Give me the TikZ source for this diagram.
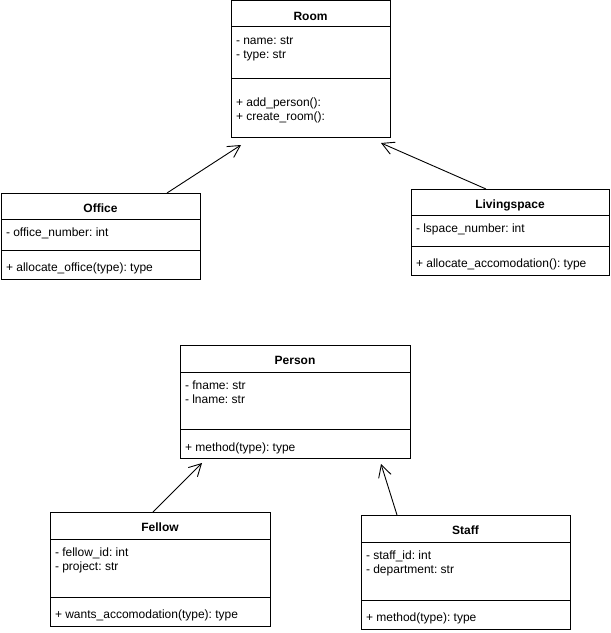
\documentclass[tikz,border=0pt]{standalone}
\usepackage{fontspec}
\setmainfont{Liberation Sans}
\usetikzlibrary{positioning,calc,arrows.meta}
\newcommand\umlfont{\fontsize{12bp}{14bp}\selectfont\frenchspacing}
\tikzset{%
  >={Straight Barb[length=12bp,width=13bp]},
  classbox/.style={draw,line width=1bp,inner sep=0pt,outer sep=0pt,
    anchor=north west},
  classtitle/.style={font=\umlfont\bfseries,inner sep=0pt,
    text height=9bp,text depth=2.5bp},
  classtext/.style={font=\umlfont,align=left,anchor=north west,
    inner sep=0pt,outer sep=0pt},
  inherit/.style={->,line width=0.9bp}%
}
% box with title, attribute and method compartments
\newcommand\ClassBox[8]{%
  \pgfmathsetmacro\boxH{#5+#6+#7}
  \node[classbox,minimum width=#4bp,minimum height=\boxH bp] (#1) at (#2,#3) {};
  \coordinate (#1-a) at ($(#1.north west)+(0,#5)$);
  \coordinate (#1-m) at ($(#1-a)+(0,#6)$);
  \draw[line width=1bp] (#1-a) -- (#1-a -| #1.east);
  \draw[line width=1bp] (#1-m) -- (#1-m -| #1.east);
  \node[classtitle] (#1-title) at ($(#1.north)!.5!(#1-a -| #1.north)+(0,3)$) {#8};
}

\begin{document}
\begin{tikzpicture}[x=1bp,y=-1bp]
	\useasboundingbox (0,0) rectangle (611,633);
	
	%% rooms
	\ClassBox{room}{231}{1}{159}{26}{52}{58}{Room}
	\node[classtext] (room-attr) at ($(room-a)+(5,8)$) {\strut- name: str\\- type: str};
	\node[classtext] (room-meth) at ($(room-m)+(5,18)$) {\strut+ add\_person():\\+ create\_room():};
	
	\ClassBox{office}{1}{193}{199}{26}{31}{29}{Office}
	\node[classtext] (office-attr) at ($(office-a)+(5,8)$) {\strut- office\_number: int};
	\node[classtext] (office-meth) at ($(office-m)+(5,12)$) {\strut+ allocate\_office(type): type};
	
	\ClassBox{living}{411}{189}{198}{26}{31}{29}{Livingspace}
	\node[classtext] (living-attr) at ($(living-a)+(5,8)$) {\strut- lspace\_number: int};
	\node[classtext] (living-meth) at ($(living-m)+(5,12)$) {\strut+ allocate\_accomodation(): type};
	
	%% people
	\ClassBox{person}{180}{345}{230}{27}{57}{29}{Person}
	\node[classtext] (person-attr) at ($(person-a)+(5,8)$) {\strut- fname: str\\- lname: str};
	\node[classtext] (person-meth) at ($(person-m)+(5,13)$) {\strut+ method(type): type};
	
	\ClassBox{fellow}{50}{512}{220}{27}{58}{29}{Fellow}
	\node[classtext] (fellow-attr) at ($(fellow-a)+(5,8)$) {\strut- fellow\_id: int\\- project: str};
	\node[classtext] (fellow-meth) at ($(fellow-m)+(5,12)$) {\strut+ wants\_accomodation(type): type};
	
	\ClassBox{staff}{361}{515}{209}{27}{58}{29}{Staff}
	\node[classtext] (staff-attr) at ($(staff-a)+(5,8)$) {\strut- staff\_id: int\\- department: str};
	\node[classtext] (staff-meth) at ($(staff-m)+(5,12)$) {\strut+ method(type): type};
	
	%% inheritance
	\draw[inherit] ($(office.north west)+(166,0)$) -- ($(room.south west)+(10,8)$);
	\draw[inherit] ($(living.north west)+(75,0)$) -- ($(room.south east)+(-9,6)$);
	\draw[inherit] ($(fellow.north west)+(103,0)$) -- ($(person.south west)+(22,5)$);
	\draw[inherit] ($(staff.north west)+(36,0)$) -- ($(person.south east)+(-29,6)$);
\end{tikzpicture}
\end{document}
